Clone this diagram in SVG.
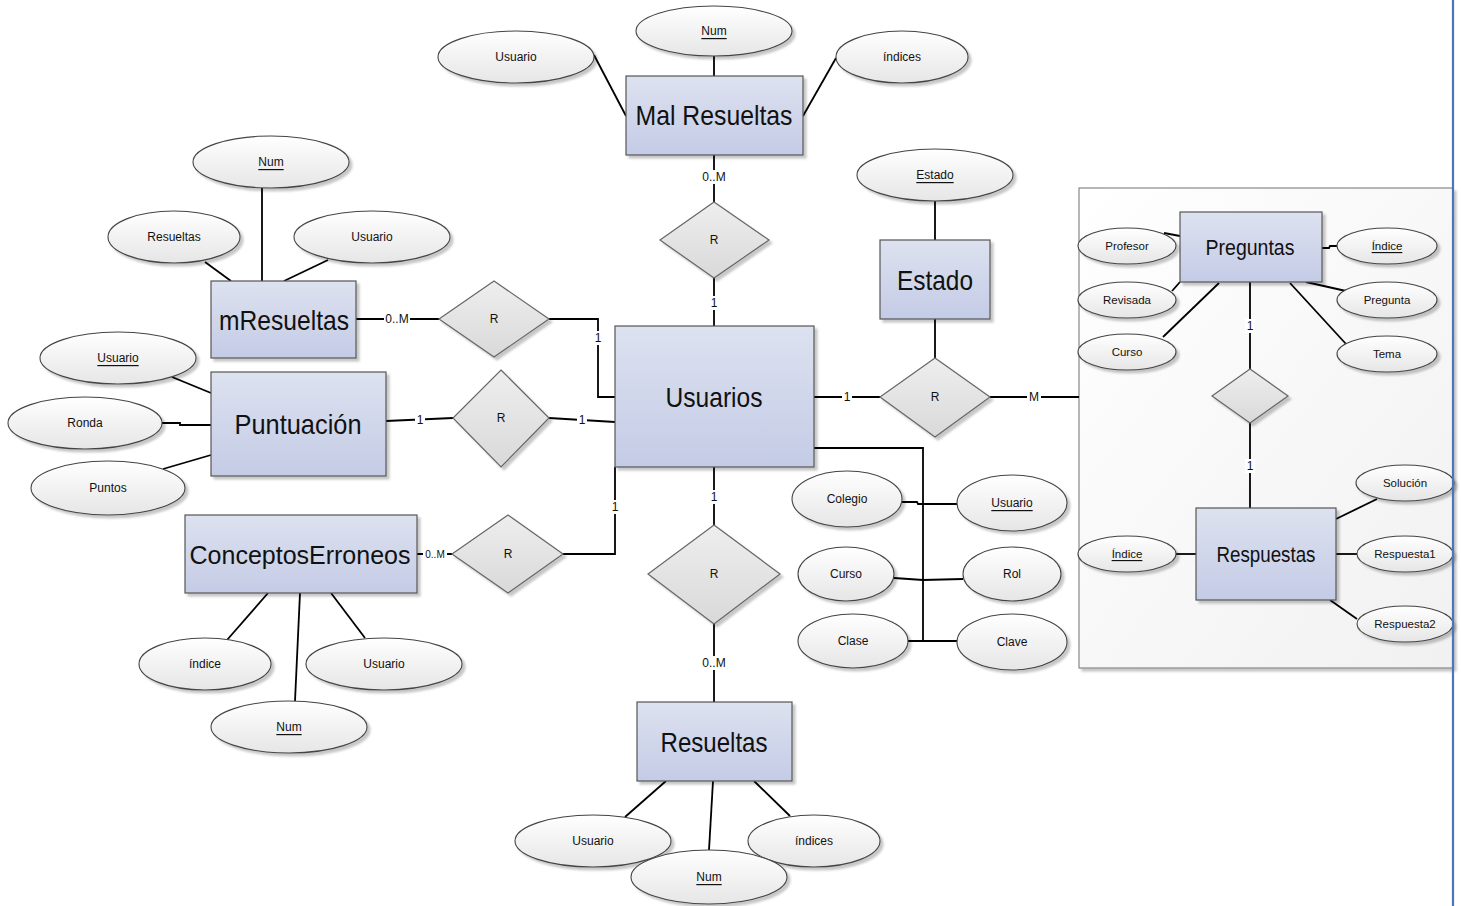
<svg xmlns="http://www.w3.org/2000/svg" width="1461" height="906" viewBox="0 0 1461 906">
  <defs>
    <linearGradient id="entFill" x1="0" y1="0" x2="0" y2="1">
      <stop offset="0" stop-color="#dde2f0"/>
      <stop offset="1" stop-color="#c4cbe5"/>
    </linearGradient>
    <linearGradient id="relFill" x1="0" y1="0" x2="0" y2="1">
      <stop offset="0" stop-color="#eeeeee"/>
      <stop offset="1" stop-color="#d9d9d9"/>
    </linearGradient>
    <linearGradient id="attFill" x1="0" y1="0" x2="0" y2="1">
      <stop offset="0" stop-color="#ffffff"/>
      <stop offset="1" stop-color="#e6e6e6"/>
    </linearGradient>
    <linearGradient id="boxFill" x1="0" y1="0" x2="1" y2="1">
      <stop offset="0" stop-color="#ffffff"/>
      <stop offset="1" stop-color="#f1f1f1"/>
    </linearGradient>
    <filter id="shadow" x="-10%" y="-10%" width="130%" height="130%">
      <feDropShadow dx="3" dy="3" stdDeviation="1.2" flood-color="#000" flood-opacity="0.22"/>
    </filter>
  </defs>
  <style>
    .ent { fill: url(#entFill); stroke: #555; stroke-width: 1.2; filter: url(#shadow); }
    .rel { fill: url(#relFill); stroke: #666; stroke-width: 1.2; filter: url(#shadow); }
    .att { fill: url(#attFill); stroke: #444; stroke-width: 1.1; filter: url(#shadow); }
    .etx { font-family: "Liberation Sans", Arial, sans-serif; font-size: 28px; fill: #111; text-anchor: middle; dominant-baseline: central; }
    .etx2 { font-family: "Liberation Sans", Arial, sans-serif; font-size: 22px; fill: #111; text-anchor: middle; dominant-baseline: central; }
    .atx { font-family: "Liberation Sans", Arial, sans-serif; font-size: 12px; fill: #111; text-anchor: middle; dominant-baseline: central; }
    .atx2 { font-family: "Liberation Sans", Arial, sans-serif; font-size: 11.5px; fill: #111; text-anchor: middle; dominant-baseline: central; }
    .key { text-decoration: underline; }
    .lbl { font-family: "Liberation Sans", Arial, sans-serif; font-size: 12px; fill: #111; text-anchor: middle; dominant-baseline: central; }
    .lbls { font-size: 10px; }
    .lblbg { fill: #fff; }
    .con { fill: none; stroke: #000; stroke-width: 1.8; }
  </style>

  <rect width="1461" height="906" fill="#fff"/>

  <!-- Preguntas / Respuestas container -->
  <g id="contenedor-preguntas">
    <rect x="1079" y="188" width="374" height="480" fill="url(#boxFill)" stroke="#888" stroke-width="1.2" filter="url(#shadow)"/>
  </g>

  <!-- connectors -->
  <g id="conectores" class="con">
    <!-- Mal Resueltas -->
    <line x1="594" y1="55" x2="626" y2="116"/>
    <line x1="714" y1="56" x2="714" y2="76"/>
    <line x1="836" y1="58" x2="803" y2="116"/>
    <line x1="714" y1="155" x2="714" y2="202"/>
    <line x1="714" y1="278" x2="714" y2="326"/>
    <!-- mResueltas -->
    <line x1="262" y1="188" x2="262" y2="281"/>
    <line x1="205" y1="262" x2="231" y2="281"/>
    <line x1="328" y1="260" x2="284" y2="281"/>
    <line x1="356" y1="319" x2="439" y2="319"/>
    <polyline points="549,319 598,319 598,397 615,397"/>
    <!-- Puntuacion -->
    <line x1="172" y1="377" x2="211" y2="393"/>
    <polyline points="162,423 180,423 180,425 211,425"/>
    <line x1="163" y1="469" x2="211" y2="455"/>
    <line x1="386" y1="421" x2="453" y2="418"/>
    <line x1="549" y1="418" x2="615" y2="422"/>
    <!-- ConceptosErroneos -->
    <line x1="227" y1="640" x2="268" y2="593"/>
    <line x1="295" y1="701" x2="300" y2="593"/>
    <line x1="365" y1="638" x2="331" y2="593"/>
    <line x1="417" y1="554" x2="452" y2="554"/>
    <polyline points="563,554 615,554 615,467"/>
    <!-- Resueltas -->
    <line x1="714" y1="467" x2="714" y2="525"/>
    <line x1="714" y1="624" x2="714" y2="702"/>
    <line x1="625" y1="817" x2="666" y2="781"/>
    <line x1="709" y1="850" x2="713" y2="781"/>
    <line x1="790" y1="816" x2="754" y2="781"/>
    <!-- Estado -->
    <line x1="935" y1="201" x2="935" y2="240"/>
    <line x1="935" y1="319" x2="935" y2="358"/>
    <line x1="814" y1="397" x2="880" y2="397"/>
    <line x1="990" y1="397" x2="1079" y2="397"/>
    <!-- Usuarios attributes -->
    <polyline points="814,448 923,448 923,641"/>
    <polyline points="902,502 917,502 918,504 957,504"/>
    <polyline points="894,578 923,580 963,579"/>
    <polyline points="908,641 923,641 957,641"/>
    <!-- Preguntas -->
    <line x1="1164" y1="233" x2="1180" y2="236"/>
    <line x1="1172" y1="291" x2="1180" y2="282"/>
    <line x1="1163" y1="337" x2="1219" y2="283"/>
    <polyline points="1337,246 1330,246 1329,248 1322,248"/>
    <line x1="1306" y1="282" x2="1346" y2="291"/>
    <line x1="1290" y1="283" x2="1346" y2="344"/>
    <line x1="1250" y1="282" x2="1250" y2="369"/>
    <line x1="1250" y1="423" x2="1250" y2="508"/>
    <!-- Respuestas -->
    <line x1="1176" y1="554" x2="1196" y2="554"/>
    <line x1="1377" y1="499" x2="1336" y2="519"/>
    <line x1="1357" y1="554" x2="1336" y2="554"/>
    <line x1="1357" y1="619" x2="1330" y2="600"/>
  </g>

  <!-- cardinality labels -->
  <g id="cardinalidades">
    <rect class="lblbg" x="701" y="170" width="26" height="14"/><text class="lbl" x="714" y="177">0..M</text>
    <rect class="lblbg" x="709" y="296" width="10" height="14"/><text class="lbl" x="714" y="303">1</text>
    <rect class="lblbg" x="384" y="312" width="26" height="14"/><text class="lbl" x="397" y="319">0..M</text>
    <rect class="lblbg" x="593" y="331" width="10" height="14"/><text class="lbl" x="598" y="338">1</text>
    <rect class="lblbg" x="415" y="413" width="10" height="14"/><text class="lbl" x="420" y="420">1</text>
    <rect class="lblbg" x="577" y="413" width="10" height="14"/><text class="lbl" x="582" y="420">1</text>
    <rect class="lblbg" x="423" y="548" width="24" height="12"/><text class="lbl lbls" x="435" y="554">0..M</text>
    <rect class="lblbg" x="610" y="500" width="10" height="14"/><text class="lbl" x="615" y="507">1</text>
    <rect class="lblbg" x="709" y="490" width="10" height="14"/><text class="lbl" x="714" y="497">1</text>
    <rect class="lblbg" x="701" y="656" width="26" height="14"/><text class="lbl" x="714" y="663">0..M</text>
    <rect class="lblbg" x="842" y="390" width="10" height="14"/><text class="lbl" x="847" y="397">1</text>
    <rect class="lblbg" x="1027" y="390" width="14" height="14"/><text class="lbl" x="1034" y="397">M</text>
    <rect class="lblbg" x="1245" y="319" width="10" height="14"/><text class="lbl" x="1250" y="326">1</text>
    <rect class="lblbg" x="1245" y="459" width="10" height="14"/><text class="lbl" x="1250" y="466">1</text>
  </g>

  <!-- relationships -->
  <g id="rel-malresueltas"><polygon class="rel" points="714,202 769,240 714,278 660,240"/><text class="atx" x="714" y="240">R</text></g>
  <g id="rel-mresueltas"><polygon class="rel" points="494,281 549,319 494,357 439,319"/><text class="atx" x="494" y="319">R</text></g>
  <g id="rel-puntuacion"><polygon class="rel" points="501,370 549,418 501,467 453,418"/><text class="atx" x="501" y="418">R</text></g>
  <g id="rel-conceptos"><polygon class="rel" points="508,515 563,554 508,593 452,554"/><text class="atx" x="508" y="554">R</text></g>
  <g id="rel-resueltas"><polygon class="rel" points="714,525 780,574 714,624 648,574"/><text class="atx" x="714" y="574">R</text></g>
  <g id="rel-estado"><polygon class="rel" points="935,358 990,397 935,437 880,397"/><text class="atx" x="935" y="397">R</text></g>
  <g id="rel-preguntas-respuestas"><polygon class="rel" points="1250,369 1288,396 1250,423 1212,396"/></g>

  <!-- entities -->
  <g id="ent-malresueltas"><rect class="ent" x="626" y="76" width="177" height="79"/><text class="etx" x="714" y="115" textLength="157" lengthAdjust="spacingAndGlyphs">Mal Resueltas</text></g>
  <g id="ent-mresueltas"><rect class="ent" x="211" y="281" width="145" height="77"/><text class="etx" x="284" y="320" textLength="130" lengthAdjust="spacingAndGlyphs">mResueltas</text></g>
  <g id="ent-puntuacion"><rect class="ent" x="211" y="372" width="175" height="104"/><text class="etx" x="298" y="424" textLength="127" lengthAdjust="spacingAndGlyphs">Puntuación</text></g>
  <g id="ent-conceptos"><rect class="ent" x="185" y="515" width="232" height="78"/><text class="etx" x="300" y="555" style="font-size:25px">ConceptosErroneos</text></g>
  <g id="ent-usuarios"><rect class="ent" x="615" y="326" width="199" height="141"/><text class="etx" x="714" y="397" textLength="97" lengthAdjust="spacingAndGlyphs">Usuarios</text></g>
  <g id="ent-estado"><rect class="ent" x="880" y="240" width="110" height="79"/><text class="etx" x="935" y="280" textLength="76" lengthAdjust="spacingAndGlyphs">Estado</text></g>
  <g id="ent-resueltas"><rect class="ent" x="637" y="702" width="155" height="79"/><text class="etx" x="714" y="742" textLength="107" lengthAdjust="spacingAndGlyphs">Resueltas</text></g>
  <g id="ent-preguntas"><rect class="ent" x="1180" y="212" width="142" height="70"/><text class="etx2" x="1250" y="247" textLength="89" lengthAdjust="spacingAndGlyphs">Preguntas</text></g>
  <g id="ent-respuestas"><rect class="ent" x="1196" y="508" width="140" height="92"/><text class="etx2" x="1266" y="554" textLength="99" lengthAdjust="spacingAndGlyphs">Respuestas</text></g>

  <!-- attributes: Mal Resueltas -->
  <g id="att-mal-usuario"><ellipse class="att" cx="516" cy="57" rx="78" ry="26"/><text class="atx" x="516" y="57">Usuario</text></g>
  <g id="att-mal-num"><ellipse class="att" cx="714" cy="31" rx="78" ry="25"/><text class="atx key" x="714" y="31">Num</text></g>
  <g id="att-mal-indices"><ellipse class="att" cx="902" cy="57" rx="66" ry="26"/><text class="atx" x="902" y="57">índices</text></g>

  <!-- attributes: mResueltas -->
  <g id="att-mres-num"><ellipse class="att" cx="271" cy="162" rx="78" ry="26"/><text class="atx key" x="271" y="162">Num</text></g>
  <g id="att-mres-resueltas"><ellipse class="att" cx="174" cy="237" rx="66" ry="26"/><text class="atx" x="174" y="237">Resueltas</text></g>
  <g id="att-mres-usuario"><ellipse class="att" cx="372" cy="237" rx="78" ry="26"/><text class="atx" x="372" y="237">Usuario</text></g>

  <!-- attributes: Puntuacion -->
  <g id="att-punt-usuario"><ellipse class="att" cx="118" cy="358" rx="78" ry="26"/><text class="atx key" x="118" y="358">Usuario</text></g>
  <g id="att-punt-ronda"><ellipse class="att" cx="85" cy="423" rx="77" ry="26"/><text class="atx" x="85" y="423">Ronda</text></g>
  <g id="att-punt-puntos"><ellipse class="att" cx="108" cy="488" rx="77" ry="27"/><text class="atx" x="108" y="488">Puntos</text></g>

  <!-- attributes: ConceptosErroneos -->
  <g id="att-conc-indice"><ellipse class="att" cx="205" cy="664" rx="66" ry="26"/><text class="atx" x="205" y="664">índice</text></g>
  <g id="att-conc-usuario"><ellipse class="att" cx="384" cy="664" rx="78" ry="26"/><text class="atx" x="384" y="664">Usuario</text></g>
  <g id="att-conc-num"><ellipse class="att" cx="289" cy="727" rx="78" ry="26"/><text class="atx key" x="289" y="727">Num</text></g>

  <!-- attributes: Resueltas -->
  <g id="att-res-usuario"><ellipse class="att" cx="593" cy="841" rx="78" ry="26"/><text class="atx" x="593" y="841">Usuario</text></g>
  <g id="att-res-indices"><ellipse class="att" cx="814" cy="841" rx="66" ry="26"/><text class="atx" x="814" y="841">índices</text></g>
  <g id="att-res-num"><ellipse class="att" cx="709" cy="877" rx="78" ry="27"/><text class="atx key" x="709" y="877">Num</text></g>

  <!-- attributes: Estado -->
  <g id="att-estado"><ellipse class="att" cx="935" cy="175" rx="78" ry="26"/><text class="atx key" x="935" y="175">Estado</text></g>

  <!-- attributes: Usuarios -->
  <g id="att-usu-colegio"><ellipse class="att" cx="847" cy="499" rx="55" ry="28"/><text class="atx" x="847" y="499">Colegio</text></g>
  <g id="att-usu-usuario"><ellipse class="att" cx="1012" cy="503" rx="55" ry="28"/><text class="atx key" x="1012" y="503">Usuario</text></g>
  <g id="att-usu-curso"><ellipse class="att" cx="846" cy="574" rx="48" ry="27"/><text class="atx" x="846" y="574">Curso</text></g>
  <g id="att-usu-rol"><ellipse class="att" cx="1012" cy="574" rx="49" ry="27"/><text class="atx" x="1012" y="574">Rol</text></g>
  <g id="att-usu-clase"><ellipse class="att" cx="853" cy="641" rx="55" ry="27"/><text class="atx" x="853" y="641">Clase</text></g>
  <g id="att-usu-clave"><ellipse class="att" cx="1012" cy="642" rx="55" ry="28"/><text class="atx" x="1012" y="642">Clave</text></g>

  <!-- attributes: Preguntas -->
  <g id="att-preg-profesor"><ellipse class="att" cx="1127" cy="246" rx="49" ry="18"/><text class="atx2" x="1127" y="246">Profesor</text></g>
  <g id="att-preg-revisada"><ellipse class="att" cx="1127" cy="300" rx="49" ry="18"/><text class="atx2" x="1127" y="300">Revisada</text></g>
  <g id="att-preg-curso"><ellipse class="att" cx="1127" cy="352" rx="49" ry="18"/><text class="atx2" x="1127" y="352">Curso</text></g>
  <g id="att-preg-indice"><ellipse class="att" cx="1387" cy="246" rx="50" ry="18"/><text class="atx2 key" x="1387" y="246">Índice</text></g>
  <g id="att-preg-pregunta"><ellipse class="att" cx="1387" cy="300" rx="50" ry="18"/><text class="atx2" x="1387" y="300">Pregunta</text></g>
  <g id="att-preg-tema"><ellipse class="att" cx="1387" cy="354" rx="50" ry="18"/><text class="atx2" x="1387" y="354">Tema</text></g>

  <!-- attributes: Respuestas -->
  <g id="att-resp-solucion"><ellipse class="att" cx="1405" cy="483" rx="49" ry="18"/><text class="atx2" x="1405" y="483">Solución</text></g>
  <g id="att-resp-respuesta1"><ellipse class="att" cx="1405" cy="554" rx="48" ry="18"/><text class="atx2" x="1405" y="554">Respuesta1</text></g>
  <g id="att-resp-respuesta2"><ellipse class="att" cx="1405" cy="624" rx="48" ry="18"/><text class="atx2" x="1405" y="624">Respuesta2</text></g>
  <g id="att-resp-indice"><ellipse class="att" cx="1127" cy="554" rx="49" ry="18"/><text class="atx2 key" x="1127" y="554">Índice</text></g>

  <!-- page margin rule -->
  <line x1="1453" y1="0" x2="1453" y2="906" stroke="#4a76c0" stroke-width="2.2"/>
</svg>
